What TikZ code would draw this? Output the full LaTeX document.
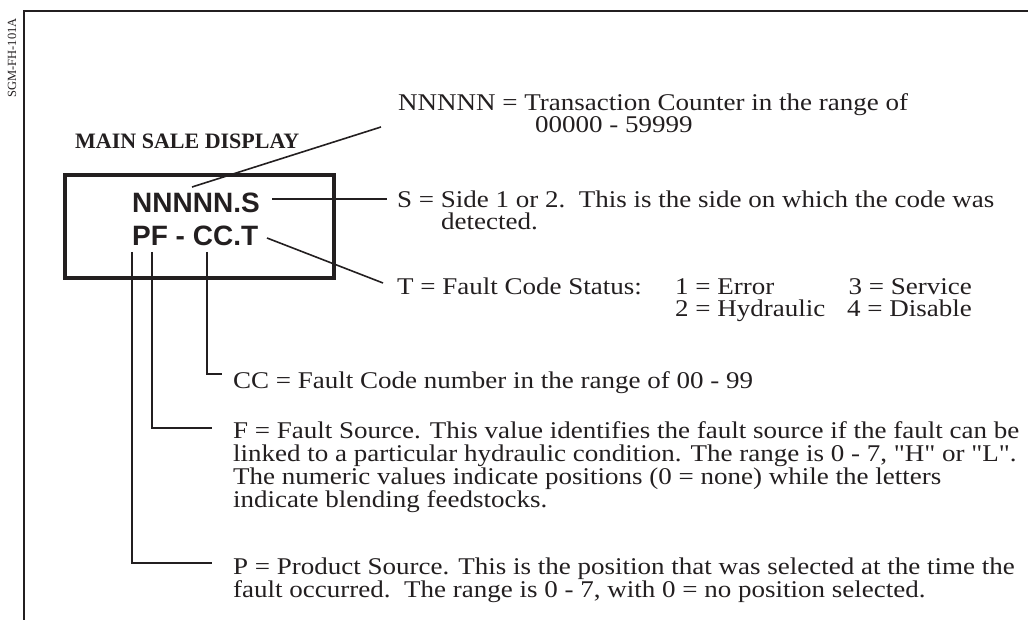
\documentclass[tikz,border=0pt]{standalone}
\usepackage{fontspec}
\setmainfont{Liberation Serif}[Ligatures=TeXOff]
\newfontfamily\bodyfont{Liberation Serif}[FakeStretch=1.125,Ligatures=TeXOff]
\newfontfamily\dispfont{Liberation Sans}
\definecolor{ink}{RGB}{35,31,32}
\begin{document}
\begin{tikzpicture}[x=1pt,y=-1pt,
  txt/.style={inner sep=0pt,anchor=base west,text=ink,font=\bodyfont\fontsize{24}{24}\selectfont},
  txtr/.style={txt,anchor=base east},
  disp/.style={inner sep=0pt,anchor=base west,text=ink,font=\dispfont\bfseries\fontsize{28}{28}\selectfont},
  ttl/.style={inner sep=0pt,anchor=base west,text=ink,font=\bfseries\fontsize{22}{22}\selectfont},
  leader/.style={draw=ink,line width=1.6pt},
  frameline/.style={draw=ink,line width=2pt},
  dispbox/.style={draw=ink,line width=4pt,minimum width=269pt,minimum height=103pt,inner sep=0pt}]
\useasboundingbox (0,0) rectangle (1028,620);
% frame
\draw[frameline] (24,620) -- (24,11) -- (1028,11);
\node[rotate=90,text=ink,inner sep=0pt,font=\fontsize{12.5}{12.5}\selectfont] (code) at (12,58) {SGM-FH-101A};
% display
\node[ttl] (title) at (75,149) {MAIN SALE DISPLAY};
\node[dispbox] (box) at (199.5,226.5) {};
\node[disp] (d1) at (132,213) {NNNNN.S};
\node[disp] (d2) at (132,246) {PF - CC.T};
% texts
\node[txt] (n1) at (398,111) {NNNNN = Transaction Counter in the range of};
\node[txt] (n2) at (535,133) {00000 - 59999};
\node[txt] (s1) at (397,208) {S = Side 1 or 2.\ \ This is the side on which the code was};
\node[txt] (s2) at (441,229.5) {detected.};
\node[txt] (t0) at (397,294.5) {T = Fault Code Status:};
\node[txt] (t1) at (675,294.5) {1 = Error};
\node[txtr] (t3) at (972,294.5) {3 = Service};
\node[txt] (t2) at (675,316.5) {2 = Hydraulic};
\node[txtr] (t4) at (972,316.5) {4 = Disable};
\node[txt] (cc) at (233,388) {CC = Fault Code number in the range of 00 - 99};
\node[txt] (f1) at (233,438) {F = Fault Source. This value identifies the fault source if the fault can be};
\node[txt] (f2) at (233,461) {linked to a particular hydraulic condition. The range is 0 - 7, "H" or "L".};
\node[txt] (f3) at (233,484) {The numeric values indicate positions (0 = none) while the letters};
\node[txt] (f4) at (233,507) {indicate blending feedstocks.};
\node[txt] (p1) at (233,574) {P = Product Source. This is the position that was selected at the time the};
\node[txt] (p2) at (233,597) {fault occurred.\ \ The range is 0 - 7, with 0 = no position selected.};
% leader end points
\coordinate (nA) at (192,187);
\coordinate (nB) at ([shift={(-17,16)}]n1.base west);
\coordinate (sA) at (272,199);
\coordinate (sB) at (387,199);
\coordinate (tA) at (267,238);
\coordinate (tB) at (383,283);
\coordinate (cA) at (207,252);
\coordinate (cB) at (222,374);
\coordinate (fA) at (152,252);
\coordinate (fB) at (212,428);
\coordinate (pA) at (132,252);
\coordinate (pB) at (212,563);
\draw[leader] (nA) -- (nB);
\draw[leader] (sA) -- (sB);
\draw[leader] (tA) -- (tB);
\draw[leader] (cA) |- (cB);
\draw[leader] (fA) |- (fB);
\draw[leader] (pA) |- (pB);
\end{tikzpicture}
\end{document}
